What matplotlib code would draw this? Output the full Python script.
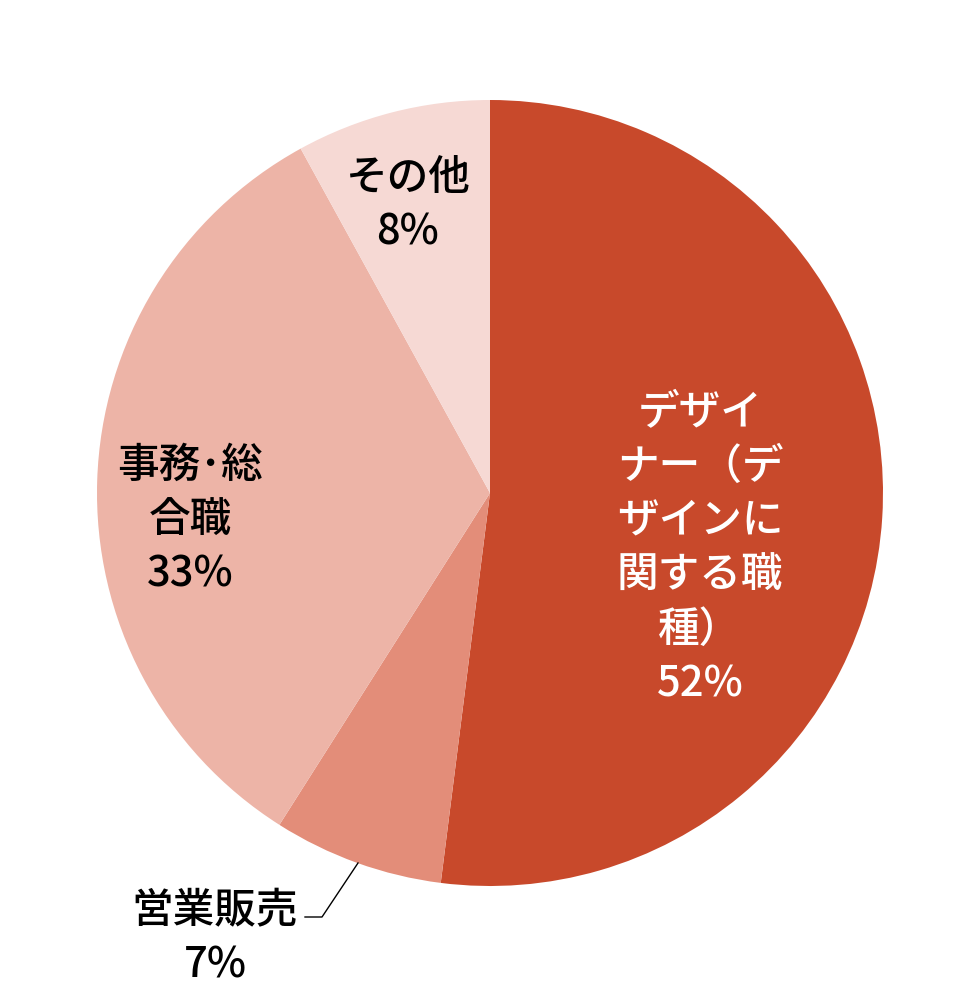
import matplotlib
matplotlib.use("Agg")
import matplotlib.pyplot as plt

plt.rcParams['font.family'] = ['Noto Sans CJK JP', 'DejaVu Sans']

categories = ["デザイナー（デザインに関する職種）", "営業販売", "事務・総合職", "その他"]
values = [52, 7, 33, 8]
label_lines = [
    "デザイ\nナー（デ\nザインに\n関する職\n種）",
    "営業販売",
    "事務･総\n合職",
    "その他",
]
colors = ["#C8492B", "#E38D79", "#EDB4A7", "#F6D9D4"]
text_colors = ["white", "black", "black", "black"]

W, H = 970, 988
fig = plt.figure(figsize=(W / 100, H / 100), dpi=100)
ax = fig.add_axes([0, 0, 1, 1])
cx, cy, R = 490, 493, 393

ax.pie(values, colors=colors, startangle=90, counterclock=False,
       radius=1.0, center=(0, 0), wedgeprops=dict(linewidth=0))

ax.set_xlim(-cx / R, (W - cx) / R)
ax.set_ylim(-(H - cy) / R, cy / R)
ax.set_aspect('equal')
ax.axis('off')

def px(x, y):
    return ((x - cx) / R, (cy - y) / R)

fs = 30
# label centres (layout)
pos = [px(700, 548), px(215, 938), px(190, 520), px(408, 205)]
for i, (lab, v) in enumerate(zip(label_lines, values)):
    x, y = pos[i]
    ax.text(x, y, f"{lab}\n{v}%", ha='center', va='center', fontsize=fs,
            color=text_colors[i], linespacing=1.33, fontweight='medium')

# leader line for small slice
p1, p2, p3 = px(358, 863), px(322, 917), px(305, 917)
ax.plot([p1[0], p2[0], p3[0]], [p1[1], p2[1], p3[1]], color='black', lw=1.0)

fig.savefig("out.png", dpi=100)
